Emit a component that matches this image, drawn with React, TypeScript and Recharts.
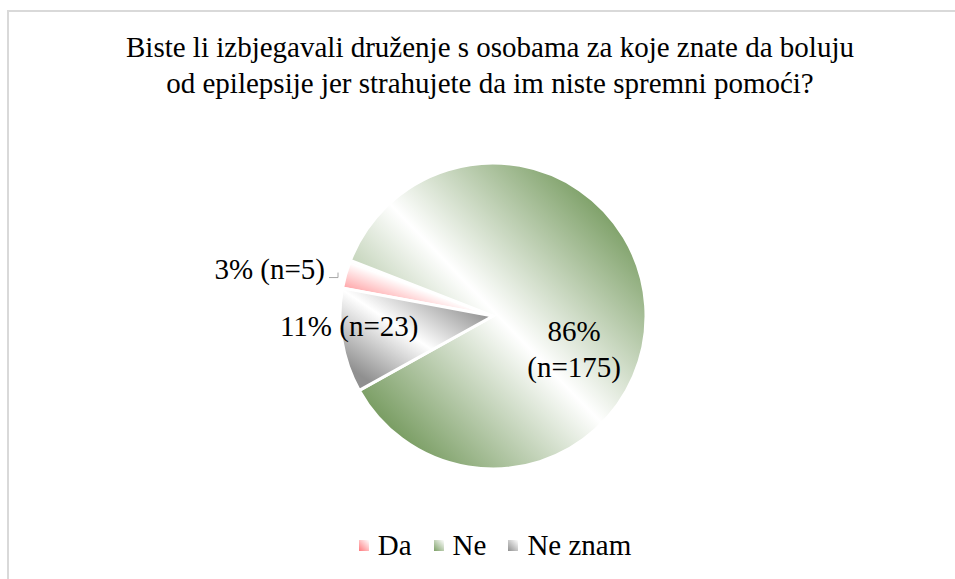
import React from "react";
import { PieChart, Pie, Cell } from "recharts";

const categories = ["Da", "Ne", "Ne znam"];
const percents = [3, 86, 11];
const counts = [5, 175, 23];
const colors = ["#ff7a7e", "#7c9f66", "#909090"];

const data = categories.map((name, i) => ({ name, value: percents[i], n: counts[i] }));

const FONT = "'Liberation Serif', Tinos, 'Times New Roman', 'DejaVu Serif', serif";
const FS = 29;

function renderLabel(props: any) {
  const { cx, cy, outerRadius, index } = props;
  const p = percents[index];
  const n = counts[index];
  if (index === 0) {
    const x = cx - outerRadius - 15;
    const y = cy - outerRadius * 0.31;
    return (
      <g>
        <path d={`M${x + 4},${y + 9} H${x + 13} V${y + 4}`} stroke="#a6a6a6" fill="none" strokeWidth={1} />
        <text x={x} y={y} textAnchor="end" dominantBaseline="central" fontFamily={FONT} fontSize={FS} fill="#000">
          {`${p}% (n=${n})`}
        </text>
      </g>
    );
  }
  if (index === 2) {
    return (
      <text x={cx - outerRadius * 0.94} y={cy + outerRadius * 0.065} textAnchor="middle" dominantBaseline="central" fontFamily={FONT} fontSize={FS} fill="#000">
        {`${p}% (n=${n})`}
      </text>
    );
  }
  const lx = cx + outerRadius * 0.53;
  return (
    <text x={lx} y={cy + outerRadius * 0.1} textAnchor="middle" fontFamily={FONT} fontSize={FS} fill="#000">
      <tspan x={lx} dy="0.35em">{`${p}%`}</tspan>
      <tspan x={lx} dy="1.22em">{`(n=${n})`}</tspan>
    </text>
  );
}

export default function App() {
  return (
    <div style={{ position: "absolute", left: 0, top: 0, width: 955, height: 579, background: "#fff", overflow: "hidden" }}>
      <svg width={0} height={0} style={{ position: "absolute" }}>
        <defs>
          {colors.map((c, i) => (
            <linearGradient key={i} id={`grad${i}`} x1="1" y1="0" x2="0" y2="1">
              <stop offset="0%" stopColor={c} />
              <stop offset="14%" stopColor={c} />
              <stop offset="50%" stopColor="#ffffff" />
              <stop offset="86%" stopColor={c} />
              <stop offset="100%" stopColor={c} />
            </linearGradient>
          ))}
        </defs>
      </svg>
      <div style={{ position: "absolute", left: 7, top: 10, width: 960, height: 600, border: "2px solid #d9d9d9", boxSizing: "border-box" }} />
      <div style={{ position: "absolute", left: 0, top: 29, width: 980, textAlign: "center", fontFamily: FONT, fontSize: FS, lineHeight: "36px", color: "#000" }}>
        Biste li izbjegavali druženje s osobama za koje znate da boluju
        <br />
        od epilepsije jer strahujete da im niste spremni pomoći?
      </div>
      <div style={{ position: "absolute", left: 0, top: 0 }}>
        <PieChart width={955} height={579}>
          <Pie
            data={data}
            dataKey="value"
            nameKey="name"
            cx={488}
            cy={311}
            outerRadius={153}
            startAngle={169.5}
            endAngle={-190.5}
            stroke="#ffffff"
            strokeWidth={3}
            label={renderLabel}
            labelLine={false}
            isAnimationActive={false}
          >
            {data.map((d, i) => (
              <Cell key={d.name} fill={`url(#grad${i})`} />
            ))}
          </Pie>
        </PieChart>
      </div>
      <div style={{ position: "absolute", left: 0, top: 529, width: 990, display: "flex", justifyContent: "center", alignItems: "center", fontFamily: FONT, fontSize: FS, color: "#000" }}>
        {categories.map((c, i) => (
          <div key={c} style={{ display: "flex", alignItems: "center", marginRight: i < categories.length - 1 ? 22 : 0 }}>
            <span style={{ display: "inline-block", width: 10, height: 11, marginRight: 9, background: `linear-gradient(45deg, ${colors[i]} 0%, #ffffff 100%)` }} />
            <span>{c}</span>
          </div>
        ))}
      </div>
    </div>
  );
}
